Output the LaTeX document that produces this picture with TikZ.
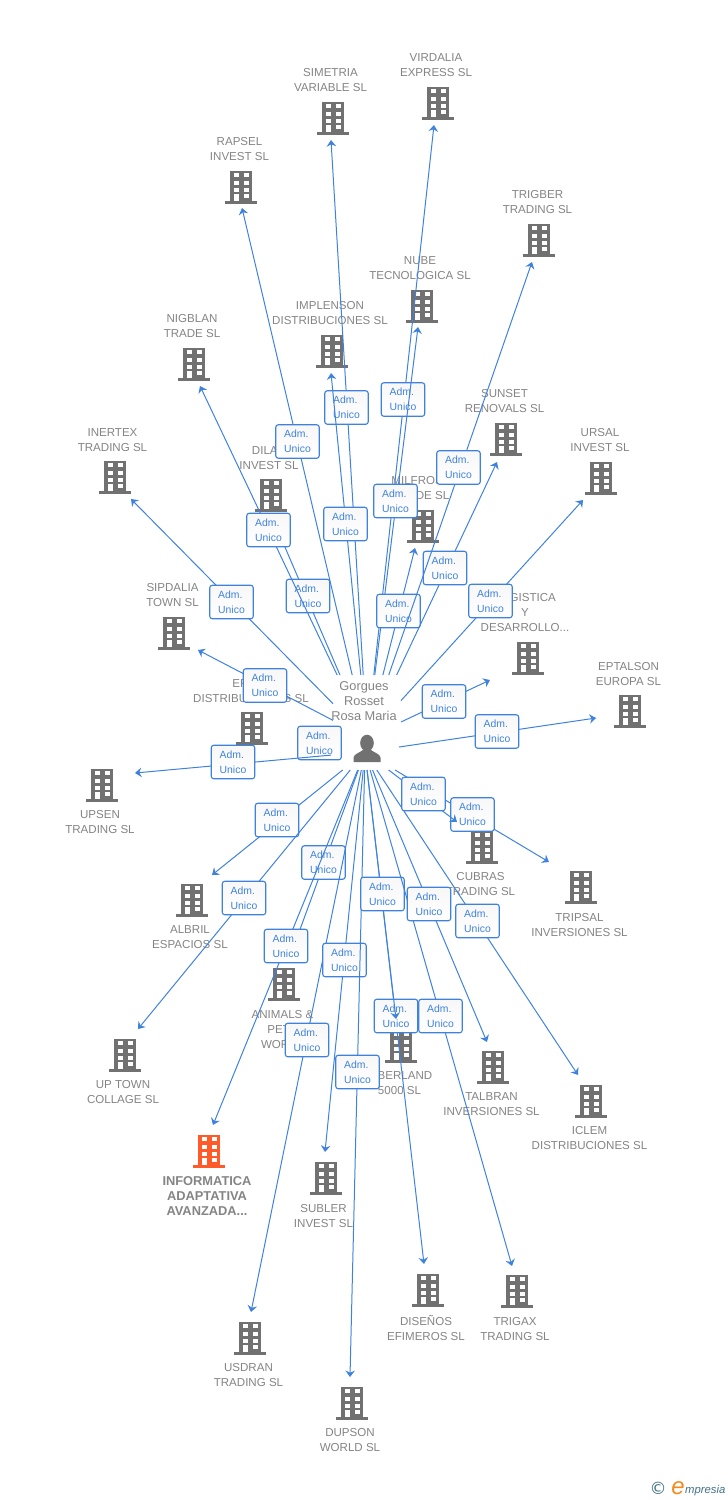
\documentclass[tikz,border=0pt]{standalone}
\usepackage{fontspec}
\setmainfont{Liberation Sans}
\newfontfamily\copyfont{DejaVu Sans}
\usepackage{xcolor}
\usepackage{tikz}
\usetikzlibrary{positioning,%
  arrows.meta,%
  calc%
}
\definecolor{bldggray}{HTML}{717171}
\definecolor{bldgorange}{HTML}{FF5A2A}
\definecolor{labelgray}{HTML}{848484}
\definecolor{linkblue}{HTML}{3F82DE}
\definecolor{logoblue}{HTML}{3F7186}
\definecolor{logoorange}{HTML}{F28A1E}
\tikzset{
  pics/bldg/.style={code={
    \fill[#1] (-11,-16.5) rectangle (11,14);
    \fill[#1] (-16,14) rectangle (16,16.5);
    \foreach \wy in {-14,-6.5,1}
      \foreach \wx in {-7.5,2.5}
        \fill[white] (\wx,\wy) rectangle +(5,4.3);
    \fill[white] (-7.5,7) rectangle (-2.5,14);
    \fill[white] (2.5,7) rectangle +(5,4.3);
  }},
  pics/bldg/.default=bldggray,
  lbl/.style={text=labelgray,align=center,inner sep=0pt,yshift=-1pt,font=\fontsize{11.55}{15}\selectfont},
  lblmain/.style={lbl,font=\fontsize{12.85}{15}\selectfont\bfseries},
  persontxt/.style={text=labelgray,align=center,inner sep=0pt,yshift=-1pt,font=\fontsize{12.8}{15}\selectfont},
  hub/.style={inner sep=0pt,outer sep=0pt},
  link/.style={draw=linkblue,line width=1pt,-{Stealth[length=6.5pt,width=9.5pt,inset=2.2pt]}},
  admbox/.style={draw=linkblue,line width=1.1pt,rounded corners=2.5pt,top color=black!3,bottom color=white,
    minimum width=43.5pt,minimum height=33.5pt,inner sep=0pt,align=left,text=linkblue,
    font=\fontsize{10.4}{15}\selectfont}
}
\begin{document}
\begin{tikzpicture}[x=1pt,y=-1pt]
  \useasboundingbox (0,0) rectangle (728,1500);

  \foreach \nm/\ix/\iy/\lx/\ly/\txt in {
    virdalia/438/103/436/64.5/{VIRDALIA\\EXPRESS SL},
    simetria/333/118/330.5/79.5/{SIMETRIA\\VARIABLE SL},
    rapsel/241/187/239.5/148.5/{RAPSEL\\INVEST SL},
    trigber/539/240/537.5/201.5/{TRIGBER\\TRADING SL},
    nube/422/306/420/267.5/{NUBE\\TECNOLOGICA SL},
    implenson/332/351/330/312.5/{IMPLENSON\\DISTRIBUCIONES SL},
    nigblan/194/364/192/325.5/{NIGBLAN\\TRADE SL},
    inertex/115/477/112.5/439.5/{INERTEX\\TRADING SL},
    dilan/271/495/269/457/{DILAN\\INVEST SL},
    milfro/423/526/421/487.5/{MILFROSA\\TRADE SL},
    sunset/506/439/504.5/400.5/{SUNSET\\RENOVALS SL},
    ursal/601/478/600/439.5/{URSAL\\INVEST SL},
    logistica/528/658/525/612/{LOGISTICA\\Y\\DESARROLLO...},
    eptalson/630/711/628.5/673.5/{EPTALSON\\EUROPA SL},
    sipdalia/174/633/172.5/594.5/{SIPDALIA\\TOWN SL},
    erpal/252/728/251/690.5/{ERPAL\\DISTRIBUCIONES SL},
    upsen/102/785/100/821/{UPSEN\\TRADING SL},
    albril/192/900/190/936.5/{ALBRIL\\ESPACIOS SL},
    uptown/125/1055/123/1091.5/{UP TOWN\\COLLAGE SL},
    animals/284/984/282.5/1029/{ANIMALS \&\\PETS\\WORLD},
    usdran/250/1338/248.5/1374.5/{USDRAN\\TRADING SL},
    subler/326/1178/323.5/1215.5/{SUBLER\\INVEST SL},
    dupson/352/1403/350/1439.5/{DUPSON\\WORLD SL},
    disenos/428/1290/426/1326.5/{DISEÑOS\\EFIMEROS SL},
    siberland/401/1046/399.5/1082.5/{SIBERLAND\\5000 SL},
    trigax/517/1291/515/1328.5/{TRIGAX\\TRADING SL},
    talbran/493/1067/491.5/1103.5/{TALBRAN\\INVERSIONES SL},
    iclem/591/1101/589.5/1137.5/{ICLEM\\DISTRIBUCIONES SL},
    cubras/482/847/480.5/883.5/{CUBRAS\\TRADING SL},
    tripsal/581/887/579.5/924/{TRIPSAL\\INVERSIONES SL}}{
    \pic (icon\nm) at (\ix,\iy) {bldg};
    \node[lbl] (\nm) at (\lx,\ly) {\txt};
  }
  \pic (iconinformatica) at (209,1151) {bldg=bldgorange};
  \node[lblmain] (informatica) at (207,1194.5) {INFORMATICA\\ADAPTATIVA\\AVANZADA...};

  \node[persontxt] (rosaname) at (364,700) {Gorgues\\Rosset\\Rosa Maria};
  \fill[bldggray] (367,743) ellipse (6.8 and 8.3);
  \fill[bldggray] (353.5,762) -- (353.5,757.5) .. controls (354,754) and (359,753) .. (363,750)
    -- (371,750) .. controls (375,753) and (380,754) .. (380.5,757.5) -- (380.5,762) -- cycle;
  \node[hub,minimum width=68pt,minimum height=126pt] (rosatop) at (367,738) {};
  \node[hub,minimum width=68pt,minimum height=36pt] (rosabot) at (365,752) {};

  \foreach \nm/\hb/\ex/\ey/\bx/\by in {
    erpal/rosabot/306/739/319.5/743,
    upsen/rosabot/135/773/233/762,
    albril/rosabot/212/875/277/820,
    uptown/rosabot/138/1029/244/898,
    animals/rosabot/291/954/323.5/862.5,
    informatica/rosabot/213/1125/286/946,
    usdran/rosabot/251/1312/307/1040,
    subler/rosabot/325/1152/344.5/960,
    dupson/rosabot/350/1377/357.5/1072,
    disenos/rosabot/424/1264/396/1016,
    siberland/rosabot/396/1019/382.5/894,
    trigax/rosabot/512/1266/440.5/1016,
    talbran/rosabot/487/1042/429/904,
    iclem/rosabot/578/1075/477.5/921,
    tripsal/rosabot/549/862/472.5/814.5,
    cubras/rosabot/457/822/423.5/794,
    dilan/rosatop/272/517/308/596,
    nigblan/rosatop/200/386/268.5/530,
    rapsel/rosatop/242/208/297.5/441.5,
    simetria/rosatop/331/140/346.5/407.5,
    implenson/rosatop/331/373/345.5/524,
    virdalia/rosatop/434/125/403/399.5,
    nube/rosatop/418/327/395.5/501,
    milfro/rosatop/415/548/398.5/611,
    sunset/rosatop/497/462/445/568,
    trigber/rosatop/532/262/458.5/467.5,
    ursal/rosatop/583/500/490.5/601,
    logistica/rosatop/490/680/444/701.5,
    eptalson/rosabot/596/718/497/731.5,
    inertex/rosatop/131/499/231.5/602,
    sipdalia/rosatop/198/650/265/685.5}{
    \coordinate (end\nm) at (\ex,\ey);
    \draw[link] (\hb) -- (end\nm);
    \node[admbox] (box\nm) at (\bx,\by) {Adm.\\Unico};
  }

  \node[text=logoblue,inner sep=0pt,font=\copyfont\fontsize{17}{17}\selectfont] (logoc) at (658,1488) {©};
  \node[text=logoorange,inner sep=0pt,anchor=base,font=\itshape\fontsize{24}{24}\selectfont] (logoe)
    at (678,1494) {e};
  \node[text=logoblue,inner sep=0pt,anchor=base west,font=\itshape\fontsize{11.3}{12}\selectfont] (logot)
    at (685,1493) {mpresia};
\end{tikzpicture}
\end{document}
